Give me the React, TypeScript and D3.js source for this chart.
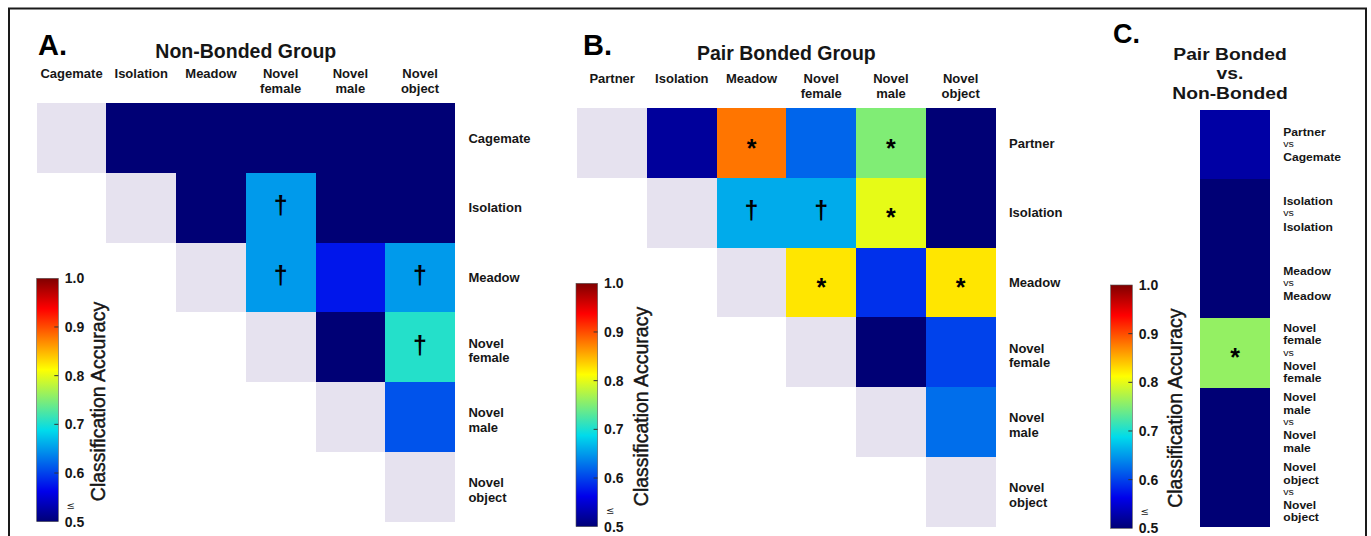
import React from "react";
import * as d3 from "d3";

// ---------------- DATA ----------------
const nonBondedCategories = ["Cagemate", "Isolation", "Meadow", "Novel female", "Novel male", "Novel object"];
const pairBondedCategories = ["Partner", "Isolation", "Meadow", "Novel female", "Novel male", "Novel object"];

// upper triangle classification accuracy (null = not shown, diagonal = self)
const nonBondedAccuracy: (number | null)[][] = [
  [null, 0.5, 0.5, 0.5, 0.5, 0.5],
  [null, null, 0.5, 0.65, 0.5, 0.5],
  [null, null, null, 0.65, 0.575, 0.65],
  [null, null, null, null, 0.5, 0.705],
  [null, null, null, null, null, 0.61],
  [null, null, null, null, null, null],
];
const nonBondedMarks: string[][] = [
  ["", "", "", "", "", ""],
  ["", "", "", "†", "", ""],
  ["", "", "", "†", "", "†"],
  ["", "", "", "", "", "†"],
  ["", "", "", "", "", ""],
  ["", "", "", "", "", ""],
];

const pairBondedAccuracy: (number | null)[][] = [
  [null, 0.52, 0.88, 0.62, 0.75, 0.5],
  [null, null, 0.66, 0.66, 0.8, 0.5],
  [null, null, null, 0.825, 0.59, 0.825],
  [null, null, null, null, 0.5, 0.6],
  [null, null, null, null, null, 0.625],
  [null, null, null, null, null, null],
];
const pairBondedMarks: string[][] = [
  ["", "", "*", "", "*", ""],
  ["", "", "†", "†", "*", ""],
  ["", "", "", "*", "", "*"],
  ["", "", "", "", "", ""],
  ["", "", "", "", "", ""],
  ["", "", "", "", "", ""],
];

const comparisonTitle = ["Pair Bonded", "vs.", "Non-Bonded"];
const comparisonRows: [string, string][] = [
  ["Partner", "Cagemate"],
  ["Isolation", "Isolation"],
  ["Meadow", "Meadow"],
  ["Novel female", "Novel female"],
  ["Novel male", "Novel male"],
  ["Novel object", "Novel object"],
];
const comparisonAccuracy = [0.525, 0.5, 0.5, 0.76, 0.5, 0.5];
const comparisonMarks = ["", "", "", "*", "", ""];

const colorbarTicks = [0.5, 0.6, 0.7, 0.8, 0.9, 1.0];
const colorbarTickLabels = ["0.5", "0.6", "0.7", "0.8", "0.9", "1.0"];

// ---------------- STYLE ----------------
const FONT = "'Liberation Sans', Arial, Helvetica, sans-serif";
const INK = "#161616";
const DIAG = "#e6e2ef";
const CELL = 69.7;

const jet = (t: number) => {
  const c = (v: number) => Math.max(0, Math.min(1, v));
  const r = c(1.5 - Math.abs(4 * t - 3));
  const g = c(1.5 - Math.abs(4 * t - 2));
  const b = c(1.5 - Math.abs(4 * t - 1));
  // slight print-like darkening of greens/blues as in the reference
  const g2 = g * (1 - 0.14 * (1 - r));
  const b2 = b * 0.92;
  return d3.rgb(r * 255, g2 * 255, b2 * 255).formatHex();
};
const colorScale = d3.scaleSequential(jet).domain([0.5, 1]).clamp(true);

function Mark({ x, y, m }: { x: number; y: number; m: string }) {
  if (!m) return null;
  if (m === "†")
    return (
      <text x={x} y={y + 6.5} textAnchor="middle" fontFamily={FONT} fontWeight="bold" fontSize={25} fill="#000">
        †
      </text>
    );
  return (
    <text x={x} y={y + 13.5} textAnchor="middle" fontFamily={FONT} fontWeight="bold" fontSize={25} fill="#000">
      *
    </text>
  );
}

function Colorbar({ x, y, h, labelDX }: { x: number; y: number; h: number; labelDX: number }) {
  const w = 21.6;
  const ys = d3.scaleLinear().domain([0.5, 1]).range([y + h, y]);
  return (
    <g>
      <rect x={x} y={y} width={w} height={h} fill="url(#jetGrad)" stroke="#555" strokeWidth={0.6} />
      {colorbarTicks.slice(1, -1).map((t) => (
        <line key={t} x1={x + w - 4} x2={x + w} y1={ys(t)} y2={ys(t)} stroke="#333" strokeWidth={1} />
      ))}
      {colorbarTicks.map((t, i) => (
        <text
          key={t}
          x={x + w + 6.5}
          y={ys(t)}
          dy="0.36em"
          fontFamily={FONT}
          fontWeight="bold"
          fontSize={14}
          fill={INK}
        >
          {colorbarTickLabels[i]}
        </text>
      ))}
      <text
        x={x + w + 12.5}
        y={y + h - 13}
        textAnchor="middle"
        fontFamily="'DejaVu Sans', sans-serif"
        fontSize={10}
        fill={INK}
      >
        ≤
      </text>
      <text
        transform={`translate(${x + labelDX},${y + h / 2 + 1.5}) rotate(-90)`}
        textAnchor="middle"
        dy="0.36em"
        fontFamily={FONT}
        fontSize={19.5}
        fill={INK}
        stroke={INK}
        strokeWidth={0.45}
      >
        Classification Accuracy
      </text>
    </g>
  );
}

function TriPanel({
  cats,
  values,
  marks,
  gx,
  gy,
  headerBase,
  title,
  titleBase,
  letter,
  letterX,
}: {
  cats: string[];
  values: (number | null)[][];
  marks: string[][];
  gx: number;
  gy: number;
  headerBase: number;
  title: string;
  titleBase: number;
  letter: string;
  letterX: number;
}) {
  const idx = cats.map((_, i) => i);
  const xs = d3.scaleBand<number>().domain(idx).range([gx, gx + CELL * cats.length]);
  const ys = d3.scaleBand<number>().domain(idx).range([gy, gy + CELL * cats.length]);
  const bw = xs.bandwidth();
  const bh = ys.bandwidth();
  const right = gx + CELL * cats.length;
  return (
    <g>
      <text x={letterX} y={55} fontFamily={FONT} fontWeight="bold" fontSize={29} fill="#000">
        {letter}
      </text>
      <text
        x={(gx + right) / 2}
        y={titleBase}
        textAnchor="middle"
        fontFamily={FONT}
        fontWeight="bold"
        fontSize={19.5}
        fill={INK}
      >
        {title}
      </text>
      {cats.map((c, i) => {
        const parts = c.split(" ");
        return (
          <text
            key={"h" + i}
            textAnchor="middle"
            fontFamily={FONT}
            fontWeight="bold"
            fontSize={13}
            fill={INK}
          >
            {parts.map((p, k) => (
              <tspan key={k} x={xs(i)! + bw / 2} y={headerBase + k * 15}>
                {p}
              </tspan>
            ))}
          </text>
        );
      })}
      <g shapeRendering="crispEdges">
        {values.map((row, r) =>
          row.map((v, c) => {
            if (c < r) return null;
            const fill = c === r ? DIAG : colorScale(v as number);
            return <rect key={r + "-" + c} x={xs(c)} y={ys(r)} width={bw} height={bh} fill={fill} />;
          })
        )}
      </g>
      {marks.map((row, r) =>
        row.map((m, c) => (
          <Mark key={"m" + r + "-" + c} x={xs(c)! + bw / 2} y={ys(r)! + bh / 2} m={m} />
        ))
      )}
      {cats.map((c, i) => {
        const parts = c.split(" ");
        const cy = ys(i)! + bh / 2;
        return (
          <text key={"r" + i} fontFamily={FONT} fontWeight="bold" fontSize={13} fill={INK}>
            {parts.length === 1 ? (
              <tspan x={right + 13.5} y={cy + 4.5}>
                {parts[0]}
              </tspan>
            ) : (
              parts.map((p, k) => (
                <tspan key={k} x={right + 13.5} y={cy + 0.5 + k * 14.5}>
                  {p}
                </tspan>
              ))
            )}
          </text>
        );
      })}
    </g>
  );
}

function ComparisonPanel() {
  const cx0 = 1200;
  const w = 70;
  const idx = comparisonRows.map((_, i) => i);
  const ys = d3.scaleBand<number>().domain(idx).range([109.5, 526.8]);
  const bh = ys.bandwidth();
  const step = 12.6;
  return (
    <g>
      <text x={1113} y={43} fontFamily={FONT} fontWeight="bold" fontSize={27} fill="#000">
        C.
      </text>
      {comparisonTitle.map((t, i) => (
        <text
          key={t}
          transform={`translate(1230,${60 + i * 19.3}) scale(1.12,1)`}
          textAnchor="middle"
          fontFamily={FONT}
          fontWeight="bold"
          fontSize={17.2}
          fill={INK}
        >
          {t}
        </text>
      ))}
      <g shapeRendering="crispEdges">
        {comparisonAccuracy.map((v, i) => (
          <rect key={i} x={cx0} y={ys(i)} width={w} height={bh} fill={colorScale(v)} />
        ))}
      </g>
      {comparisonMarks.map((m, i) => (
        <Mark key={"m" + i} x={cx0 + w / 2} y={ys(i)! + bh / 2} m={m} />
      ))}
      {comparisonRows.map(([a, b], i) => {
        const lines = [...a.split(" "), "vs", ...b.split(" ")];
        const n = lines.length;
        const cy = ys(i)! + bh / 2;
        return (
          <g key={"l" + i}>
            {lines.map((t, k) => {
              const off = (k - (n - 1) / 2) * step;
              const isVs = t === "vs";
              return (
                <text
                  key={k}
                  transform={`translate(1283.3,${cy + off + (isVs ? 2.6 : 4.1)}) scale(${isVs ? 1.12 : 1.08},1)`}
                  fontFamily={FONT}
                  fontWeight={isVs ? "normal" : "bold"}
                  fontSize={isVs ? 9.5 : 11.2}
                  fill={INK}
                >
                  {t}
                </text>
              );
            })}
          </g>
        );
      })}
    </g>
  );
}

export default function App() {
  const stops = d3.range(0, 41).map((i) => i / 40);
  return (
    <svg
      width={1371}
      height={536}
      viewBox="0 0 1371 536"
      style={{ position: "absolute", left: 0, top: 0, background: "#fff" }}
    >
      <defs>
        <linearGradient id="jetGrad" x1="0" y1="1" x2="0" y2="0">
          {stops.map((s) => (
            <stop key={s} offset={s} stopColor={colorScale(0.5 + s * 0.5)} />
          ))}
        </linearGradient>
      </defs>
      <rect x={0} y={0} width={1371} height={536} fill="#fff" />
      <rect x={9} y={8.5} width={1357} height={600} fill="none" stroke="#1a1a1a" strokeWidth={2} />

      <TriPanel
        cats={nonBondedCategories}
        values={nonBondedAccuracy}
        marks={nonBondedMarks}
        gx={36.7}
        gy={103.3}
        headerBase={78}
        title="Non-Bonded Group"
        titleBase={58}
        letter="A."
        letterX={38}
      />
      <Colorbar x={36.7} y={278.3} h={243.4} labelDX={61} />

      <TriPanel
        cats={pairBondedCategories}
        values={pairBondedAccuracy}
        marks={pairBondedMarks}
        gx={577.3}
        gy={108.3}
        headerBase={83}
        title="Pair Bonded Group"
        titleBase={60}
        letter="B."
        letterX={583}
      />
      <Colorbar x={576} y={283.3} h={243.4} labelDX={65} />

      <ComparisonPanel />
      <Colorbar x={1110.7} y={285} h={243.3} labelDX={64} />
    </svg>
  );
}
